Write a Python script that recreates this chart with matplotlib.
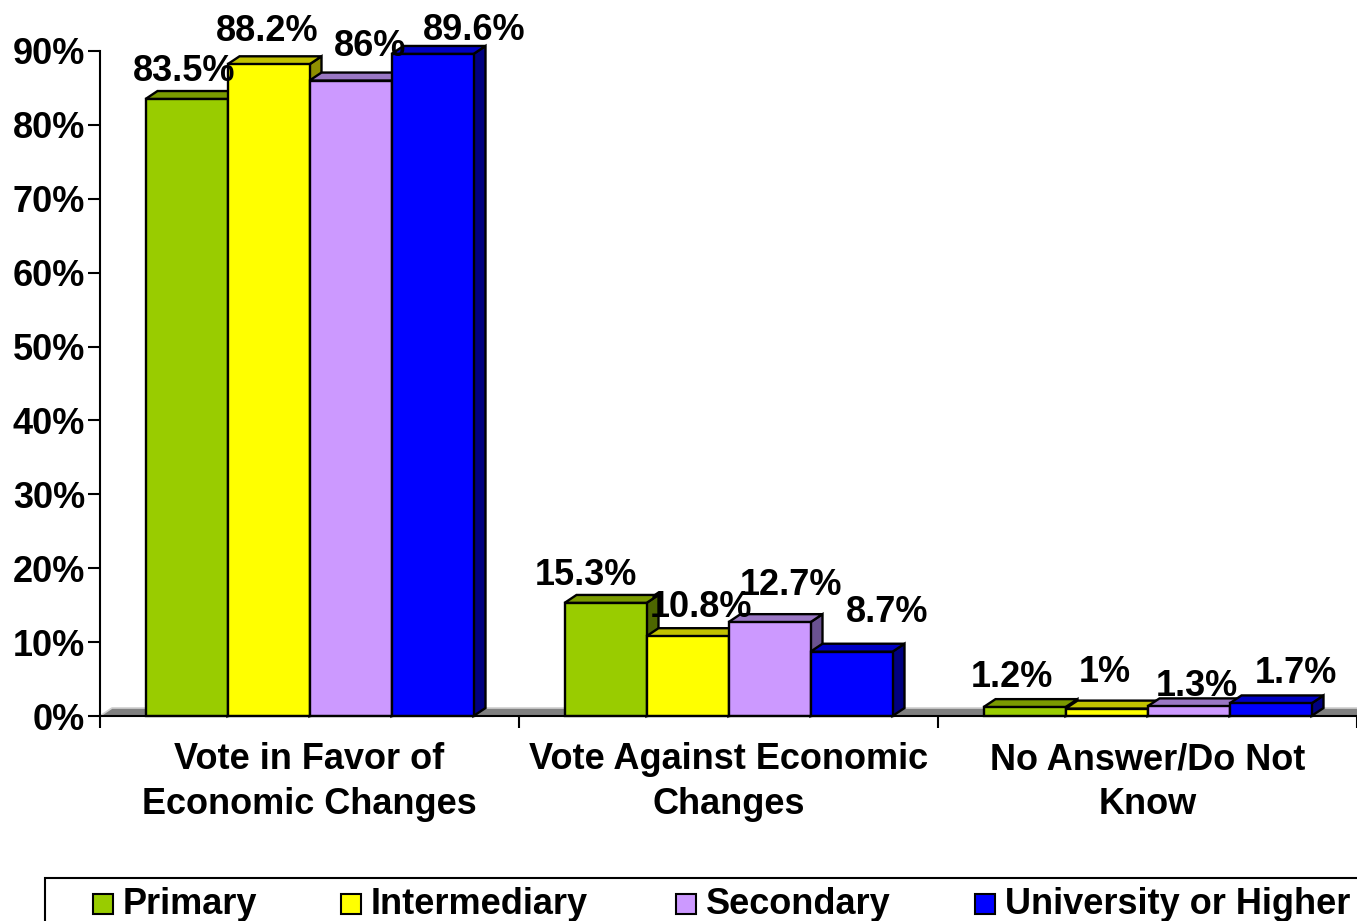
import matplotlib
matplotlib.use("Agg")
import matplotlib.pyplot as plt
from matplotlib.patches import Polygon, Rectangle

# ---------------- data ----------------
categories = ["Vote in Favor of\nEconomic Changes",
              "Vote Against Economic\nChanges",
              "No Answer/Do Not\nKnow"]
series_names = ["Primary", "Intermediary", "Secondary", "University or Higher"]
primary = [83.5, 15.3, 1.2]
intermediary = [88.2, 10.8, 1.0]
secondary = [86.0, 12.7, 1.3]
university = [89.6, 8.7, 1.7]
y_ticks = [0, 10, 20, 30, 40, 50, 60, 70, 80, 90]

# ---------------- style ----------------
series_values = [primary, intermediary, secondary, university]
front_colors = ["#99CC00", "#FFFF00", "#CC99FF", "#0000FF"]
top_colors = ["#7A9A00", "#C2C200", "#9A77C4", "#0000C4"]
side_colors = ["#4D6600", "#8F8F00", "#6A5290", "#000080"]
# label offsets in pixels (dx, dy of label centre from bar top centre)
label_offsets = [
    [(-2, 31), (-20, 31), (-13, 33)],
    [(-1, 36), (13, 32), (-2, 40)],
    [(20, 38), (22, 40), (8, 23)],
    [(42, 27), (36, 43), (25, 33)],
]
legend_marker_x = [93, 341, 676, 975]

FW, FH = 1357, 921
FONT = "Liberation Sans"
FS = 26

plt.rcParams["font.family"] = [FONT, "DejaVu Sans"]
plt.rcParams["font.weight"] = "bold"

fig = plt.figure(figsize=(FW / 100, FH / 100), dpi=100)
ax_left, ax_right, ax_bottom, ax_top = 100, 1357, 716, 51
ax = fig.add_axes([ax_left / FW, 1 - ax_bottom / FH,
                   (ax_right - ax_left) / FW, (ax_bottom - ax_top) / FH])
ax.set_xlim(-0.5, 2.5)
ax.set_ylim(0, 90)

px_x = 3.0 / (ax_right - ax_left)
px_y = 90.0 / (ax_bottom - ax_top)
dx, dy = 12 * px_x, 8 * px_y

# floor
floor = Polygon([(-0.5, 0), (-0.5 + dx, dy), (2.5 + dx, dy), (2.5, 0)],
                closed=True, facecolor="#808080", edgecolor="none",
                zorder=1, clip_on=False)
ax.add_patch(floor)
ax.plot([-0.5, -0.5 + dx, 2.5 + dx], [0, dy, dy], color="#D0D0D0",
        lw=1.2, zorder=1.1, clip_on=False)

n = len(series_values)
bar_w = 82 * px_x
z = 2
for ci in range(len(categories)):
    for si in range(n):
        v = series_values[si][ci]
        x0 = ci + (si - n / 2) * bar_w
        x1 = x0 + bar_w
        ec = dict(edgecolor="black", linewidth=1.7, clip_on=False,
                  joinstyle="miter")
        ax.add_patch(Polygon([(x1, 0), (x1 + dx, dy), (x1 + dx, v + dy), (x1, v)],
                             closed=True, facecolor=side_colors[si],
                             zorder=z, **ec))
        ax.add_patch(Polygon([(x0, v), (x0 + dx, v + dy), (x1 + dx, v + dy), (x1, v)],
                             closed=True, facecolor=top_colors[si],
                             zorder=z, **ec))
        ax.add_patch(Rectangle((x0, 0), bar_w, v, facecolor=front_colors[si],
                               zorder=z + 0.5, **ec))
        z += 1
        ox, oy = label_offsets[si][ci]
        ax.annotate(f"{v:g}%", xy=(x0 + bar_w / 2, v),
                    xytext=(ox, oy - 13), textcoords="offset pixels",
                    ha="center", va="baseline", fontsize=FS,
                    fontweight="bold", zorder=100, annotation_clip=False)

# axes styling
for s in ["top", "right"]:
    ax.spines[s].set_visible(False)
for s in ["left", "bottom"]:
    ax.spines[s].set_linewidth(1.5)
    ax.spines[s].set_zorder(50)

ax.set_yticks(y_ticks)
ax.set_yticklabels([f"{t}%" for t in y_ticks], fontsize=FS, fontweight="bold")
ax.tick_params(axis="y", direction="out", length=8.6, width=1.5, pad=2)

ax.set_xticks(range(len(categories)))
ax.set_xticklabels(categories, fontsize=FS, fontweight="bold")
ax.tick_params(axis="x", which="major", length=0, pad=19)
for t in ax.get_xticklabels():
    t.set_linespacing(1.36)
ax.set_xticks([i - 0.5 for i in range(len(categories) + 1)], minor=True)
ax.tick_params(axis="x", which="minor", direction="out", length=8.6, width=1.5)


# legend (figure pixel coordinates)
def fx(x):
    return x / FW


def fy(y):
    return 1 - y / FH


fig.patches.append(Rectangle((fx(45), fy(960)), fx(1400) - fx(45), fy(878) - fy(960),
                             transform=fig.transFigure, facecolor="white",
                             edgecolor="black", linewidth=1.5, zorder=1))
for i, name in enumerate(series_names):
    mx = legend_marker_x[i]
    fig.patches.append(Rectangle((fx(mx), fy(914)), 20 / FW, 20 / FH,
                                 transform=fig.transFigure,
                                 facecolor=front_colors[i], edgecolor="black",
                                 linewidth=1.5, zorder=2))
    fig.text(fx(mx + 30), fy(914), name, fontsize=FS, fontweight="bold",
             ha="left", va="baseline", zorder=3)

fig.savefig("out.png", dpi=100)
